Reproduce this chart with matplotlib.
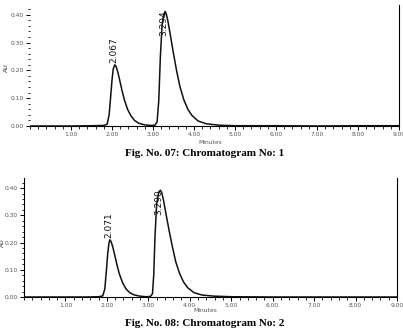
import numpy as np
import matplotlib.pyplot as plt
from matplotlib.ticker import MultipleLocator, FormatStrFormatter

# chromatogram 1
t1 = [0.0, 1.0, 1.5, 1.8, 1.88, 1.93, 1.97, 2.00, 2.03, 2.067, 2.10, 2.14, 2.18, 2.24, 2.30, 2.38, 2.46, 2.55, 2.65,
      2.8, 2.95, 3.05, 3.10, 3.14, 3.18, 3.22, 3.26, 3.294, 3.32, 3.36, 3.42, 3.50, 3.58, 3.66, 3.75, 3.85, 3.95,
      4.10, 4.30, 4.6, 5.0, 6.0, 7.0, 8.0, 9.0]
au1 = [0.0, 0.0, 0.001, 0.002, 0.006, 0.04, 0.11, 0.165, 0.205, 0.220, 0.214, 0.195, 0.170, 0.130, 0.095, 0.060,
       0.037, 0.020, 0.010, 0.004, 0.002, 0.003, 0.015, 0.09, 0.25, 0.36, 0.40, 0.412, 0.405, 0.380, 0.330, 0.260,
       0.195, 0.140, 0.095, 0.060, 0.038, 0.018, 0.008, 0.003, 0.001, 0.001, 0.0, 0.001, 0.001]

# chromatogram 2
t2 = [0.0, 1.0, 1.5, 1.8, 1.90, 1.95, 1.99, 2.02, 2.05, 2.071, 2.10, 2.14, 2.18, 2.24, 2.30, 2.38, 2.46, 2.55, 2.65,
      2.8, 2.95, 3.05, 3.10, 3.13, 3.16, 3.20, 3.25, 3.29, 3.32, 3.36, 3.42, 3.50, 3.58, 3.66, 3.75, 3.85, 3.95,
      4.10, 4.30, 4.6, 5.0, 6.0, 7.0, 8.0, 9.0]
au2 = [0.0, 0.0, 0.0, 0.001, 0.004, 0.03, 0.10, 0.160, 0.198, 0.210, 0.204, 0.185, 0.160, 0.120, 0.085, 0.052,
       0.030, 0.016, 0.008, 0.003, 0.001, 0.002, 0.012, 0.08, 0.22, 0.34, 0.385, 0.392, 0.385, 0.360, 0.310, 0.245,
       0.185, 0.130, 0.088, 0.055, 0.034, 0.016, 0.007, 0.003, 0.001, 0.0, 0.0, 0.0, 0.0]

# (time, AU, label, label sits above or over the apex)
peaks1 = [(2.067, 0.220, '2.067', 'above'), (3.294, 0.412, '3.294', 'over')]
peaks2 = [(2.071, 0.210, '2.071', 'above'), (3.290, 0.392, '3.290', 'over')]
captions = ['Fig. No. 07: Chromatogram No: 1', 'Fig. No. 08: Chromatogram No: 2']

W, H = 403, 334
fig = plt.figure(figsize=(W / 100, H / 100), dpi=100)

def px_axes(x0, x1, ytop, ybot):
    return fig.add_axes([x0 / W, 1 - ybot / H, (x1 - x0) / W, (ybot - ytop) / H])

def draw(ax, t, au, peaks, ymax, dotted_left):
    ax.plot(t, au, color='#111111', lw=1.1)
    ax.set_xlim(0, 9)
    ax.set_ylim(0, ymax)
    ax.spines['top'].set_visible(False)
    ax.spines['right'].set_linewidth(0.8)
    ax.spines['bottom'].set_linewidth(0.8)
    if dotted_left:
        ax.spines['left'].set_visible(False)
    else:
        ax.spines['left'].set_linewidth(0.8)
    ax.set_yticks([0.0, 0.1, 0.2, 0.3, 0.4])
    ax.set_xticks([1, 2, 3, 4, 5, 6, 7, 8, 9])
    ax.xaxis.set_minor_locator(MultipleLocator(0.2))
    ax.yaxis.set_minor_locator(MultipleLocator(0.02))
    ax.xaxis.set_major_formatter(FormatStrFormatter('%.2f'))
    ax.yaxis.set_major_formatter(FormatStrFormatter('%.2f'))
    ax.tick_params(which='major', length=3, width=0.7, labelsize=4.3, labelcolor='#555555', pad=1.5)
    ax.tick_params(which='minor', length=1.8, width=0.6)
    for x, y, lab, where in peaks:
        if where == 'above':
            ax.text(x - 0.02, y + 0.008, lab, rotation=90, ha='center', va='bottom', fontsize=6.5, color='#111111')
        else:
            ax.text(x - 0.03, y + 0.005, lab, rotation=90, ha='center', va='top', fontsize=6.5, color='#111111')

ax1 = px_axes(30, 399, 5, 126)
draw(ax1, t1, au1, peaks1, 0.435, True)
ax2 = px_axes(24, 397, 178, 297)
draw(ax2, t2, au2, peaks2, 0.437, False)

fig.text(6 / W, 1 - 68 / H, 'AU', rotation=90, ha='center', va='center', fontsize=4.5, color='#333333')
fig.text(2.5 / W, 1 - 243 / H, 'AU', rotation=90, ha='center', va='center', fontsize=4.5, color='#333333')
fig.text(210 / W, 1 - 142 / H, 'Minutes', ha='center', va='center', fontsize=4.3, color='#555555')
fig.text(205 / W, 1 - 311 / H, 'Minutes', ha='center', va='center', fontsize=4.3, color='#555555')

fig.text(205 / W, 1 - 154 / H, captions[0], ha='center', va='center', fontsize=8,
         fontweight='bold', family='Liberation Serif')
fig.text(205 / W, 1 - 324 / H, captions[1], ha='center', va='center', fontsize=8,
         fontweight='bold', family='Liberation Serif')

plt.savefig('out.png', dpi=100)
